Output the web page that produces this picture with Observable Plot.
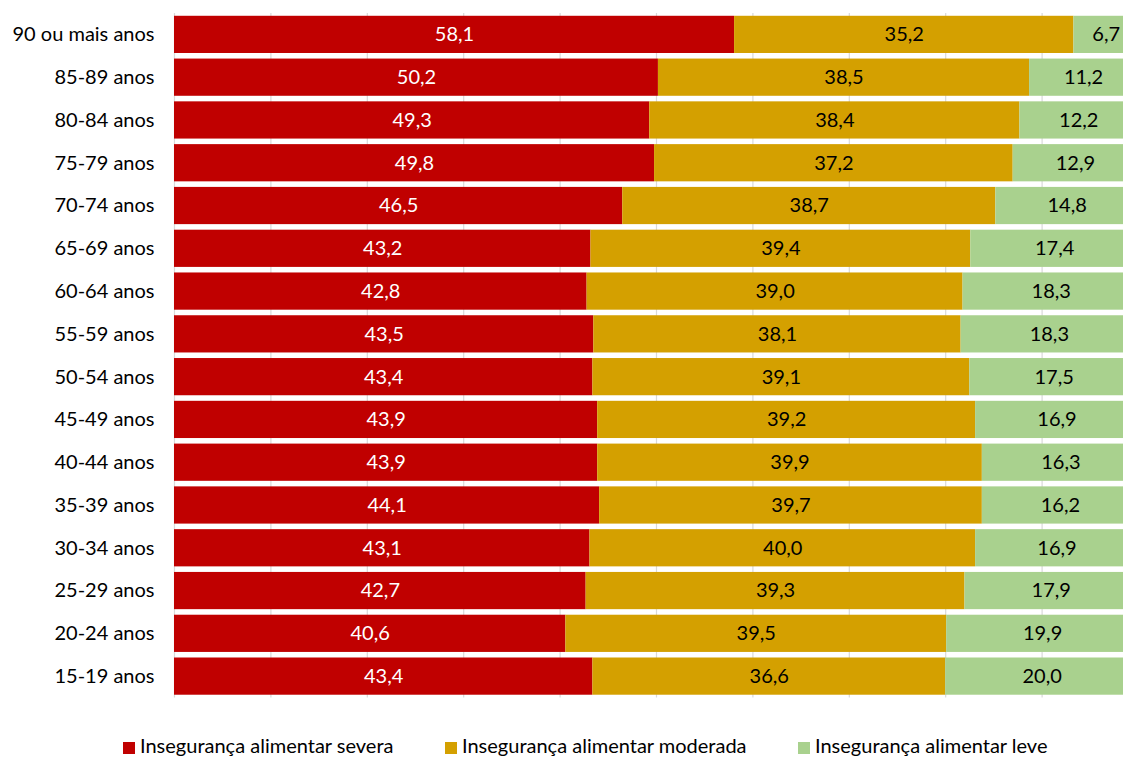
<!DOCTYPE html>
<html>
<head>
<meta charset="utf-8">
<script src="https://cdn.jsdelivr.net/npm/d3@7"></script>
<script src="https://cdn.jsdelivr.net/npm/@observablehq/plot@0.6"></script>
<style>
  html, body { margin: 0; padding: 0; background: #fff; overflow: hidden; }
  #wrap { position: relative; width: 1123px; height: 758px; overflow: hidden; font-family: Lato, "Noto Sans", sans-serif; }
  #chart { position: absolute; left: 0; top: 0; width: 1140px; }
  #chart svg { max-width: none !important; width: 1140px; height: 705px; }
  .leg { position: absolute; top: 733px; font-size: 20px; color: #000; white-space: nowrap; line-height: 24px; }
  .leg i { display: inline-block; width: 12px; height: 12px; margin-right: 5px; vertical-align: -1px; }
</style>
</head>
<body>
<div id="wrap">
  <div id="chart"></div>
  <div id="legend"></div>
</div>
<script>
const ages = ["90 ou mais anos","85-89 anos","80-84 anos","75-79 anos","70-74 anos","65-69 anos","60-64 anos","55-59 anos","50-54 anos","45-49 anos","40-44 anos","35-39 anos","30-34 anos","25-29 anos","20-24 anos","15-19 anos"];
const seriesNames = ["Insegurança alimentar severa","Insegurança alimentar moderada","Insegurança alimentar leve"];
const severa   = [58.1,50.2,49.3,49.8,46.5,43.2,42.8,43.5,43.4,43.9,43.9,44.1,43.1,42.7,40.6,43.4];
const moderada = [35.2,38.5,38.4,37.2,38.7,39.4,39.0,38.1,39.1,39.2,39.9,39.7,40.0,39.3,39.5,36.6];
const leve     = [6.7,11.2,12.2,12.9,14.8,17.4,18.3,18.3,17.5,16.9,16.3,16.2,16.9,17.9,19.9,20.0];
const colors = ["#C00000","#D4A000","#A9D18E"];
const gridTicks = [0,10,20,30,40,50,60,70,80,90,100];

const seriesValues = [severa, moderada, leve];
const data = [];
ages.forEach((a, i) => seriesNames.forEach((s, j) => data.push({age: a, series: s, value: seriesValues[j][i]})));
const fmt = v => v.toFixed(1).replace(".", ",");

const chart = Plot.plot({
  width: 1140,
  height: 705,
  marginLeft: 174,
  marginRight: 2,
  marginTop: 13,
  marginBottom: 7.5,
  style: {fontFamily: "Lato, 'Noto Sans', sans-serif", fontSize: "20px", color: "#000", background: "#fff", maxWidth: "none"},
  x: {domain: [0, 100], axis: null},
  y: {domain: ages, paddingInner: 0.13, paddingOuter: 0.065, round: false, axis: null},
  color: {domain: seriesNames, range: colors},
  marks: [
    Plot.ruleX(gridTicks, {stroke: "#d9d9d9", strokeWidth: 1.2}),
    Plot.barX(data, Plot.stackX({x: "value", y: "age", fill: "series"})),
    Plot.text(data, Plot.stackX({x: "value", y: "age", z: "series",
      text: d => d.series === seriesNames[0] ? fmt(d.value) : "", fill: "white", fontSize: 20})),
    Plot.text(data, Plot.stackX({x: "value", y: "age", z: "series",
      text: d => d.series !== seriesNames[0] ? fmt(d.value) : "", fill: "black", fontSize: 20})),
    Plot.axisY({tickSize: 0, tickPadding: 20, label: null, fontSize: 20, fill: "#000"})
  ]
});
document.getElementById("chart").appendChild(chart);

const legendLefts = [123, 445, 798];
const legend = document.getElementById("legend");
seriesNames.forEach((s, j) => {
  const d = document.createElement("div");
  d.className = "leg";
  d.style.left = legendLefts[j] + "px";
  d.innerHTML = `<i style="background:${colors[j]}"></i>${s}`;
  legend.appendChild(d);
});
</script>
</body>
</html>
